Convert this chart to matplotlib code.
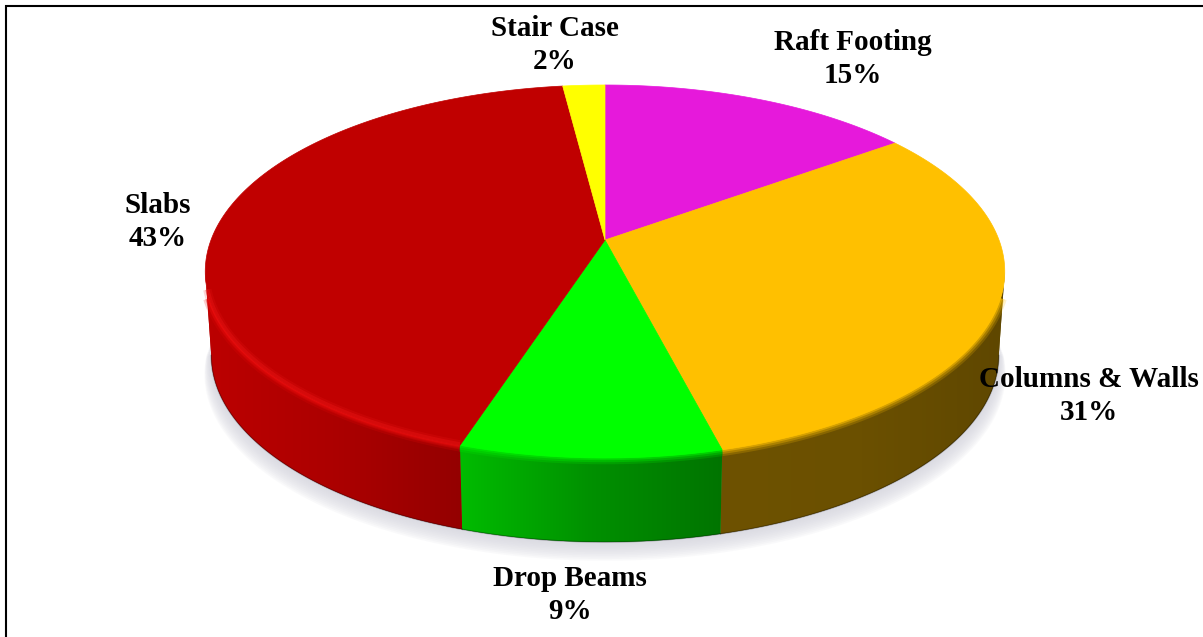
import numpy as np
import matplotlib
matplotlib.use('Agg')
from matplotlib import pyplot as plt
from matplotlib.colors import LinearSegmentedColormap
from matplotlib.patches import Polygon

names = ['Raft Footing', 'Columns & Walls', 'Drop Beams', 'Slabs', 'Stair Case']
values = [15, 31, 9, 43, 2]
top_colors = ['#E619DB', '#FFC000', '#00FF00', '#C00000', '#FFFF00']
# wall shade left to right for the slices that show a side
wall_colors = [None, ['#6E5200', '#6B5000', '#5F4700'], ['#00BC00', '#009000', '#007400'],
               ['#BC0000', '#AC0000', '#940000'], None]
rim_colors = [None, '#FFC000', '#00F000', '#E80808', None]
label_x = [853, 1089, 570, 158, 555]
label_y = [59, 396, 595, 222, 45]

# ellipse of the top face, in pixels, with the apex pushed back by perspective
cx, cy = 605, 240
a, b, k = 181.2, 394, 0.169
depth = 84
bottom_scale = 0.985


def project(t):
    u, v = np.sin(t), np.cos(t)
    s = 1 / (1 + k * v)
    return cx + b * u * s, cy - a * v * s


fig = plt.figure(figsize=(12.03, 6.37), dpi=100)
ax = fig.add_axes([0, 0, 1, 1])
ax.set_xlim(0, 1203)
ax.set_ylim(637, 0)
ax.axis('off')

# frame has only top and left lines
ax.plot([6, 6, 1203], [637, 6, 6], color='black', lw=1.5, zorder=10, solid_joinstyle='miter')

edges = np.radians(np.cumsum([0] + values) * 3.6)
t_right, t_left = np.arccos(-k), 2 * np.pi - np.arccos(-k)

# soft shadow under the disc
t = np.linspace(t_right - 0.1, t_left + 0.1, 300)
sx, sy = project(t)
for grow in range(22, 0, -2):
    sc = bottom_scale + grow / 1300
    ax.fill(cx + (sx - cx) * sc, sy + depth + grow * 0.85,
            color='#D4D4DE', alpha=0.12, lw=0, zorder=1)

# side walls, each filled with a left to right gradient
for i in range(len(values)):
    if wall_colors[i] is None:
        continue
    t = np.linspace(max(edges[i], t_right), min(edges[i + 1], t_left), 120)
    x, y = project(t)
    xb = cx + (x - cx) * bottom_scale
    pts = np.column_stack([np.r_[x, xb[::-1]], np.r_[y, y[::-1] + depth]])
    poly = Polygon(pts, closed=True, fc=wall_colors[i][1], ec='none', zorder=2)
    ax.add_patch(poly)
    cmap = LinearSegmentedColormap.from_list('w', wall_colors[i])
    im = ax.imshow(np.linspace(0, 1, 256)[None, :], cmap=cmap, aspect='auto', zorder=3,
                   extent=[pts[:, 0].min(), pts[:, 0].max(), pts[:, 1].max(), pts[:, 1].min()])
    im.set_clip_path(poly)
    ax.plot(xb, y + depth, color='black', lw=1, alpha=0.3, zorder=3.5)

# rim blur where the top face meets the wall
for i in range(len(values)):
    if rim_colors[i] is None:
        continue
    t = np.linspace(max(edges[i], t_right + 0.14), min(edges[i + 1], t_left - 0.14), 120)
    x, y = project(t)
    for lw, al in [(9, 0.2), (6, 0.3), (3, 0.5)]:
        ax.plot(x, y, color=rim_colors[i], lw=lw, alpha=al, solid_capstyle='butt', zorder=4)

# top face
for i in range(len(values)):
    t = np.linspace(edges[i], edges[i + 1], 200)
    x, y = project(t)
    ax.fill(np.r_[cx, x], np.r_[cy, y], color=top_colors[i], lw=0.5, zorder=5)

# bright line along the front of the red slice
t = np.linspace(edges[3], t_left - 0.1, 120)
x, y = project(t)
for lw, al in [(6, 0.18), (3, 0.35)]:
    ax.plot(x, y - 1, color='#F01818', lw=lw, alpha=al, solid_capstyle='butt', zorder=6)

# labels
for i in range(len(values)):
    ax.text(label_x[i], label_y[i], f'{names[i]}\n{values[i]}%', ha='center', va='center',
            family='Liberation Serif', weight='bold', size=21, color='black',
            linespacing=1.25, zorder=9)

ax.set_xlim(0, 1203)
ax.set_ylim(637, 0)
fig.savefig('out.png', dpi=100)
